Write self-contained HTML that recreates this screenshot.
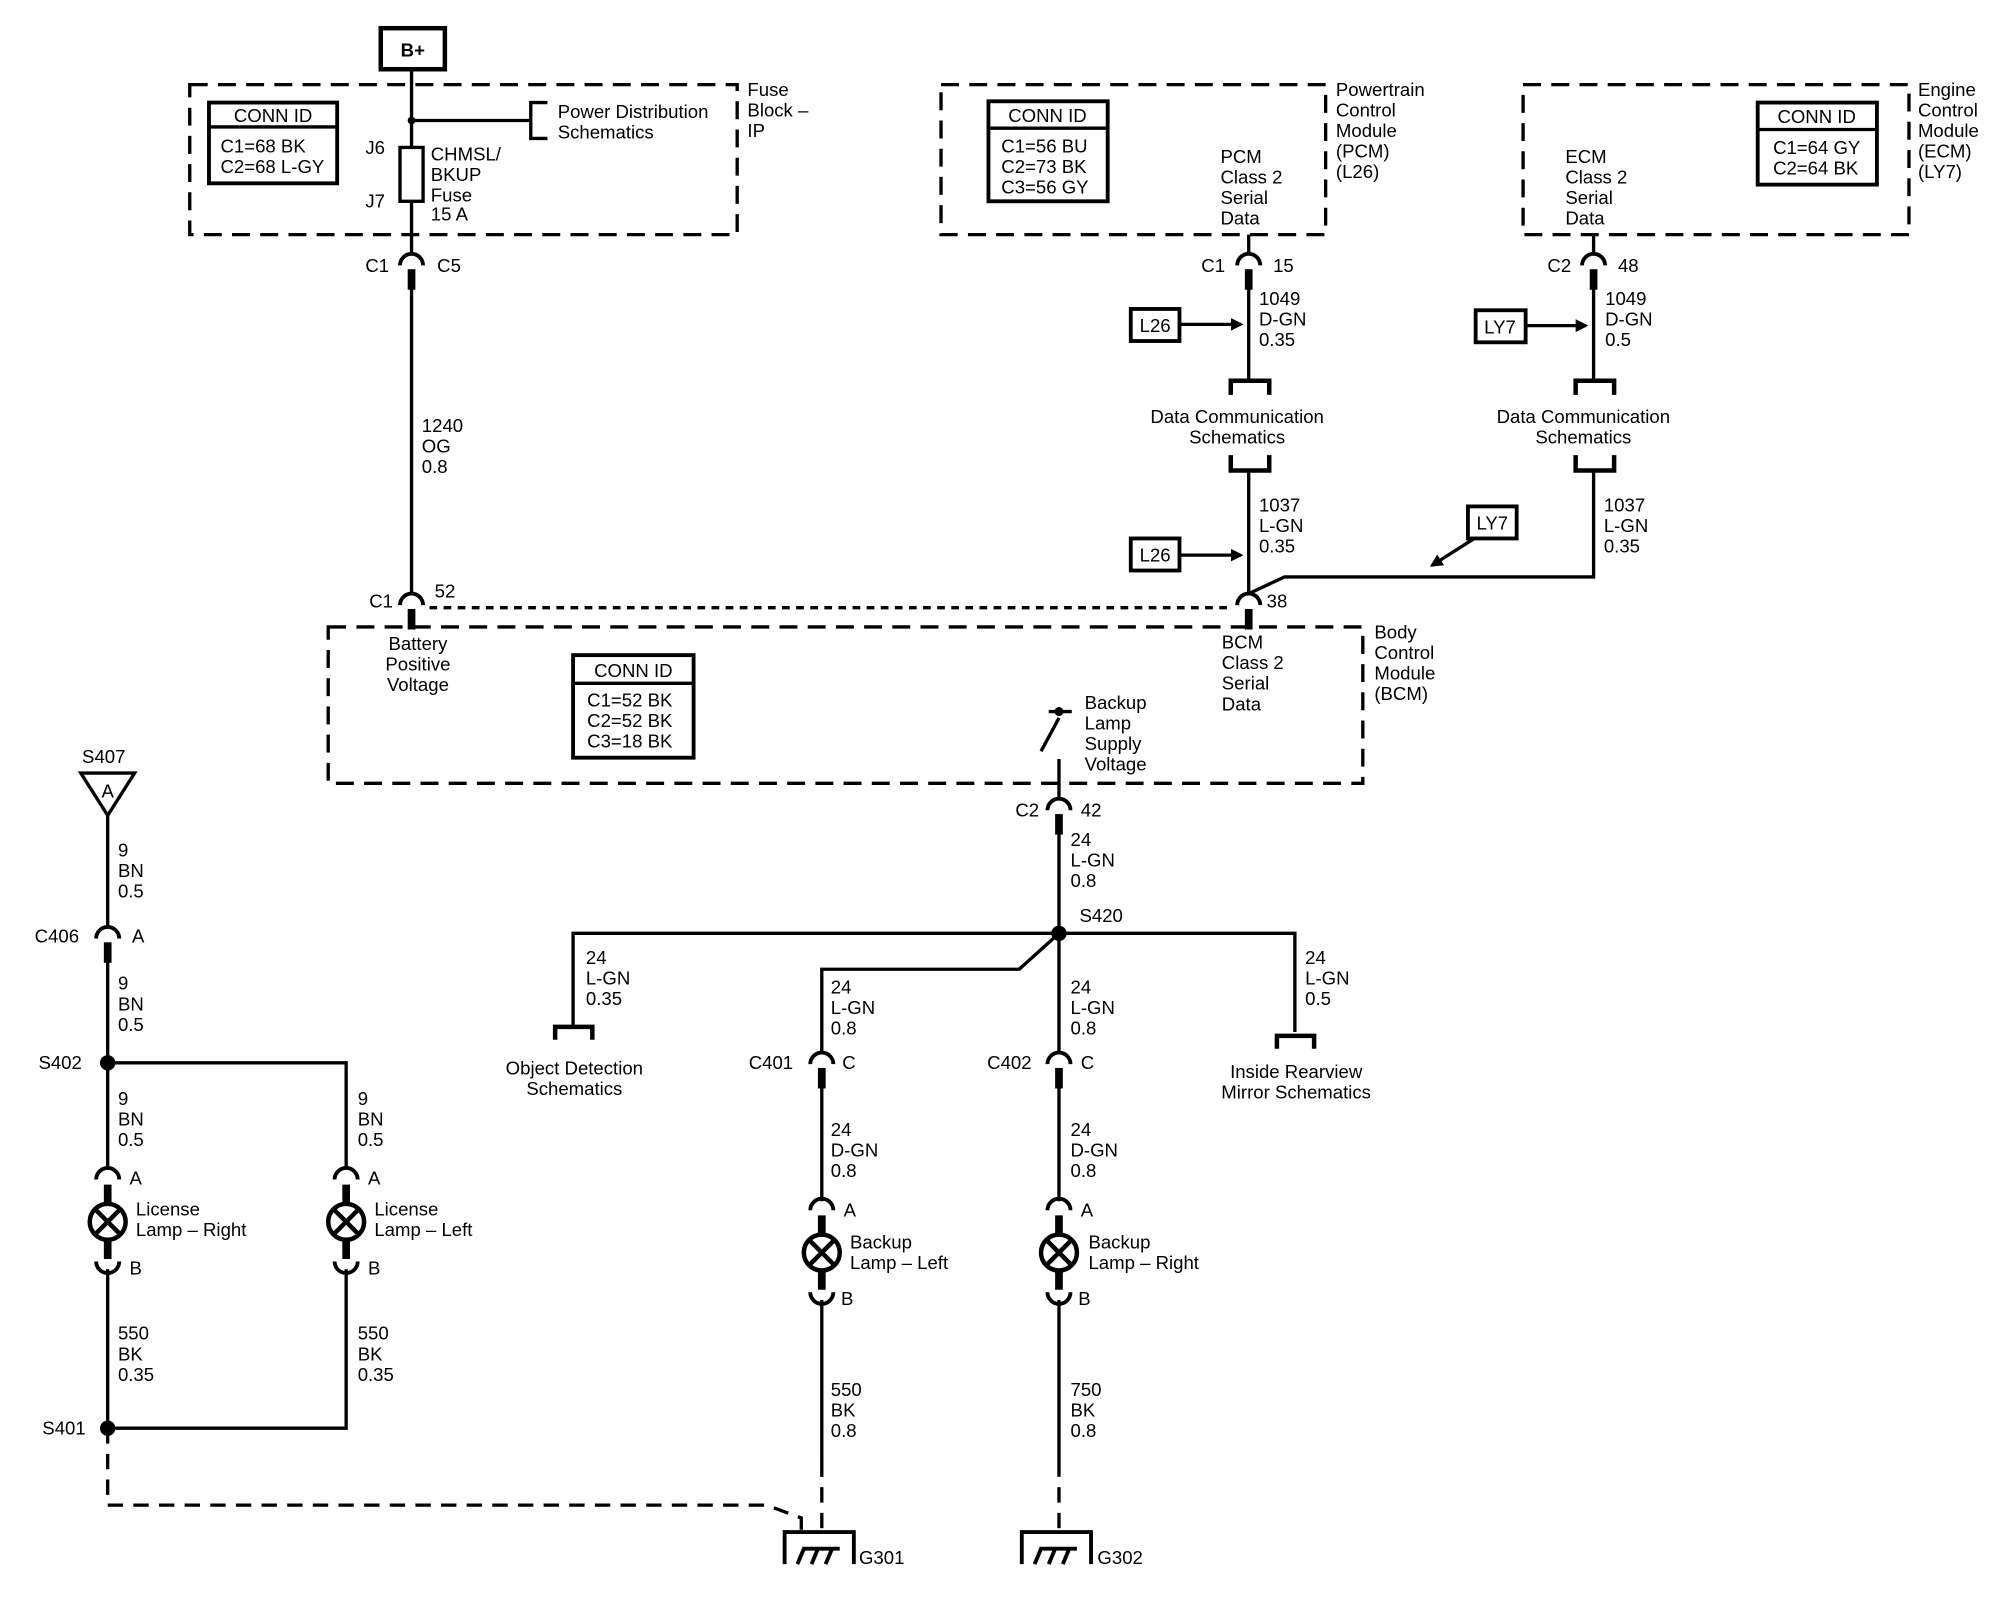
<!DOCTYPE html>
<html><head><meta charset="utf-8"><style>
html,body{margin:0;padding:0;background:#fff;}
svg{display:block;}
text{font-family:"Liberation Sans",Arial,sans-serif;font-size:14.5px;fill:#000;}
</style></head><body>
<svg width="2000" height="1600" viewBox="0 0 1560 1248" xmlns="http://www.w3.org/2000/svg">
<defs>
<g id="cu"><path d="M-9,2 A9,9 0 0 1 9,2" fill="none" stroke="#000" stroke-width="3"/><rect x="-3" y="5" width="6" height="16"/></g>
<g id="lamp">
<path d="M-9,-33 A9,9 0 0 1 9,-33" fill="none" stroke="#000" stroke-width="3"/>
<rect x="-3" y="-29" width="6" height="58"/>
<circle r="14" fill="#fff" stroke="#000" stroke-width="3.5"/>
<path d="M-10,-10 L10,10 M10,-10 L-10,10" stroke="#000" stroke-width="3.5"/>
<path d="M-9,31 A9,9 0 0 0 9,31" fill="none" stroke="#000" stroke-width="3"/>
</g>
<g id="gnd" fill="none" stroke="#000" stroke-width="3">
<path d="M-27,28 V3 H27 V28"/>
<path d="M-17,28 L-12,16 H16 M-6,28 L-1,16 M5,28 L10,16" />
</g>
<marker id="ar" markerWidth="10" markerHeight="10" refX="8" refY="5" orient="auto" markerUnits="userSpaceOnUse"><path d="M0,0 L10,5 L0,10 Z"/></marker>
</defs>
<g fill="none" stroke="#000" stroke-width="2.6">
<!-- dashed boxes -->
<g stroke-dasharray="14,8">
<rect x="148" y="66" width="427" height="117"/>
<rect x="734" y="66" width="300" height="117"/>
<rect x="1188" y="66" width="301" height="117"/>
<rect x="256" y="489" width="807" height="122"/>
</g>
<!-- B+ -->
<rect x="297" y="22" width="50" height="32" stroke-width="3.5"/>
<!-- conn id boxes -->
<rect x="163" y="80" width="100" height="63" stroke-width="3"/><line x1="163" y1="99" x2="263" y2="99"/>
<rect x="771" y="79" width="93" height="78" stroke-width="3"/><line x1="771" y1="100" x2="864" y2="100"/>
<rect x="1371" y="80" width="93" height="64" stroke-width="3"/><line x1="1371" y1="101" x2="1464" y2="101"/>
<rect x="447" y="511" width="94" height="80" stroke-width="3"/><line x1="447" y1="533" x2="541" y2="533"/>
<!-- fuse block wire -->
<line x1="321" y1="54" x2="321" y2="115"/>
<line x1="321" y1="94" x2="414" y2="94"/>
<path d="M427,80 H414 V108 H427"/>
<rect x="312" y="115" width="18" height="42"/>
<line x1="321" y1="157" x2="321" y2="198"/>
<line x1="321" y1="224" x2="321" y2="463"/>
<!-- dotted bcm -->
<line x1="335" y1="474" x2="962" y2="474" stroke-dasharray="6,5"/>
<!-- PCM wire -->
<line x1="974" y1="183" x2="974" y2="198"/>
<line x1="974" y1="224" x2="974" y2="297"/>
<path d="M960,308 V297 H990 V308" stroke-width="3.5"/>
<path d="M960,355 V367 H990 V355" stroke-width="3.5"/>
<line x1="974" y1="367" x2="974" y2="463"/>
<!-- ECM wire -->
<line x1="1243" y1="183" x2="1243" y2="198"/>
<line x1="1243" y1="224" x2="1243" y2="297"/>
<path d="M1229,308 V297 H1259 V308" stroke-width="3.5"/>
<path d="M1229,355 V367 H1259 V355" stroke-width="3.5"/>
<path d="M1243,367 V450 H1002 L974,463"/>
<!-- arrows -->
<line x1="920" y1="253" x2="968" y2="253" marker-end="url(#ar)"/>
<line x1="920" y1="433" x2="968" y2="433" marker-end="url(#ar)"/>
<line x1="1190" y1="254" x2="1237" y2="254" marker-end="url(#ar)"/>
<line x1="1150" y1="420" x2="1117" y2="441" marker-end="url(#ar)"/>
<rect x="882" y="241" width="38" height="25" stroke-width="3"/>
<rect x="882" y="420" width="38" height="25" stroke-width="3"/>
<rect x="1151" y="242" width="39" height="25" stroke-width="3"/>
<rect x="1145" y="395" width="38" height="25" stroke-width="3"/>
<!-- switch -->
<line x1="818" y1="555" x2="836" y2="555"/>
<line x1="826" y1="560" x2="812" y2="586"/>
<line x1="826" y1="592" x2="826" y2="623"/>
<line x1="826" y1="649" x2="826" y2="728"/>
<!-- S420 bus -->
<path d="M447,801 V728 H1010 V805"/>
<path d="M433,811 V801 H462 V811" stroke-width="3.5"/>
<path d="M996,818 V808 H1025 V818" stroke-width="3.5"/>
<path d="M826,728 L795,756 H641 V821"/>
<line x1="826" y1="728" x2="826" y2="821"/>
<line x1="641" y1="847" x2="641" y2="937"/>
<line x1="826" y1="847" x2="826" y2="937"/>
<line x1="641" y1="1014" x2="641" y2="1140"/>
<line x1="826" y1="1014" x2="826" y2="1140"/>
<line x1="641" y1="1140" x2="641" y2="1197" stroke-dasharray="12,8"/>
<line x1="826" y1="1140" x2="826" y2="1197" stroke-dasharray="12,8"/>
<!-- left circuit -->
<path d="M63,603 H105 L84,636 Z"/>
<line x1="84" y1="636" x2="84" y2="723"/>
<line x1="84" y1="749" x2="84" y2="911"/>
<path d="M84,829 H270 V911"/>
<line x1="84" y1="990" x2="84" y2="1114"/>
<path d="M270,990 V1114 H84"/>
<path d="M84,1114 V1174 H598 L625,1184 V1197" stroke-dasharray="12,8"/>
</g>
<!-- connectors -->
<use href="#cu" x="321" y="205"/>
<use href="#cu" x="321" y="470"/>
<use href="#cu" x="974" y="205"/>
<use href="#cu" x="1243" y="205"/>
<use href="#cu" x="974" y="470"/>
<use href="#cu" x="826" y="630"/>
<use href="#cu" x="641" y="828"/>
<use href="#cu" x="826" y="828"/>
<use href="#cu" x="84" y="730"/>
<use href="#lamp" x="641" y="977"/>
<use href="#lamp" x="826" y="977"/>
<use href="#lamp" x="84" y="953"/>
<use href="#lamp" x="270" y="953"/>
<use href="#gnd" x="639" y="1192"/>
<use href="#gnd" x="824" y="1192"/>
<!-- dots -->
<circle cx="321" cy="94" r="3"/>
<circle cx="826" cy="555" r="3.5"/>
<circle cx="826" cy="728" r="6"/>
<circle cx="84" cy="829" r="6"/>
<circle cx="84" cy="1114" r="6"/>
<!-- text -->
<text x="322" y="44" text-anchor="middle" font-weight="bold">B+</text>
<text x="213" y="95" text-anchor="middle">CONN ID</text>
<text x="172" y="119">C1=68 BK</text><text x="172" y="135">C2=68 L-GY</text>
<text x="435" y="92">Power Distribution</text><text x="435" y="108">Schematics</text>
<text x="583" y="75">Fuse</text><text x="583" y="91">Block –</text><text x="583" y="107">IP</text>
<text x="285" y="120">J6</text><text x="285" y="162">J7</text>
<text x="336" y="125">CHMSL/</text><text x="336" y="141">BKUP</text><text x="336" y="157">Fuse</text><text x="336" y="172">15 A</text>
<text x="285" y="212">C1</text><text x="341" y="212">C5</text>
<text x="329" y="337">1240</text><text x="329" y="353">OG</text><text x="329" y="369">0.8</text>
<text x="288" y="474">C1</text><text x="339" y="466">52</text>
<text x="326" y="507" text-anchor="middle">Battery</text><text x="326" y="523" text-anchor="middle">Positive</text><text x="326" y="539" text-anchor="middle">Voltage</text>
<text x="494" y="528" text-anchor="middle">CONN ID</text>
<text x="458" y="551">C1=52 BK</text><text x="458" y="567">C2=52 BK</text><text x="458" y="583">C3=18 BK</text>
<text x="953" y="506">BCM</text><text x="953" y="522">Class 2</text><text x="953" y="538">Serial</text><text x="953" y="554">Data</text>
<text x="1072" y="498">Body</text><text x="1072" y="514">Control</text><text x="1072" y="530">Module</text><text x="1072" y="546">(BCM)</text>
<text x="846" y="553">Backup</text><text x="846" y="569">Lamp</text><text x="846" y="585">Supply</text><text x="846" y="601">Voltage</text>
<text x="792" y="637">C2</text><text x="843" y="637">42</text>
<text x="835" y="660">24</text><text x="835" y="676">L-GN</text><text x="835" y="692">0.8</text>
<text x="842" y="719">S420</text>
<text x="457" y="752">24</text><text x="457" y="768">L-GN</text><text x="457" y="784">0.35</text>
<text x="648" y="775">24</text><text x="648" y="791">L-GN</text><text x="648" y="807">0.8</text>
<text x="835" y="775">24</text><text x="835" y="791">L-GN</text><text x="835" y="807">0.8</text>
<text x="1018" y="752">24</text><text x="1018" y="768">L-GN</text><text x="1018" y="784">0.5</text>
<text x="448" y="838" text-anchor="middle">Object Detection</text><text x="448" y="854" text-anchor="middle">Schematics</text>
<text x="1011" y="841" text-anchor="middle">Inside Rearview</text><text x="1011" y="857" text-anchor="middle">Mirror Schematics</text>
<text x="584" y="834">C401</text><text x="657" y="834">C</text>
<text x="770" y="834">C402</text><text x="843" y="834">C</text>
<text x="648" y="886">24</text><text x="648" y="902">D-GN</text><text x="648" y="918">0.8</text>
<text x="835" y="886">24</text><text x="835" y="902">D-GN</text><text x="835" y="918">0.8</text>
<text x="658" y="949">A</text><text x="843" y="949">A</text>
<text x="663" y="974">Backup</text><text x="663" y="990">Lamp – Left</text>
<text x="849" y="974">Backup</text><text x="849" y="990">Lamp – Right</text>
<text x="656" y="1018">B</text><text x="841" y="1018">B</text>
<text x="648" y="1089">550</text><text x="648" y="1105">BK</text><text x="648" y="1121">0.8</text>
<text x="835" y="1089">750</text><text x="835" y="1105">BK</text><text x="835" y="1121">0.8</text>
<text x="670" y="1220">G301</text><text x="856" y="1220">G302</text>
<text x="64" y="595">S407</text><text x="84" y="622" text-anchor="middle" font-size="13">A</text>
<text x="92" y="668">9</text><text x="92" y="684">BN</text><text x="92" y="700">0.5</text>
<text x="27" y="735">C406</text><text x="103" y="735">A</text>
<text x="92" y="772">9</text><text x="92" y="788">BN</text><text x="92" y="804">0.5</text>
<text x="30" y="834">S402</text>
<text x="92" y="862">9</text><text x="92" y="878">BN</text><text x="92" y="894">0.5</text>
<text x="279" y="862">9</text><text x="279" y="878">BN</text><text x="279" y="894">0.5</text>
<text x="101" y="924">A</text><text x="287" y="924">A</text>
<text x="106" y="948">License</text><text x="106" y="964">Lamp – Right</text>
<text x="292" y="948">License</text><text x="292" y="964">Lamp – Left</text>
<text x="101" y="994">B</text><text x="287" y="994">B</text>
<text x="92" y="1045">550</text><text x="92" y="1061">BK</text><text x="92" y="1077">0.35</text>
<text x="279" y="1045">550</text><text x="279" y="1061">BK</text><text x="279" y="1077">0.35</text>
<text x="33" y="1119">S401</text>
<text x="817" y="95" text-anchor="middle">CONN ID</text>
<text x="781" y="119">C1=56 BU</text><text x="781" y="135">C2=73 BK</text><text x="781" y="151">C3=56 GY</text>
<text x="952" y="127">PCM</text><text x="952" y="143">Class 2</text><text x="952" y="159">Serial</text><text x="952" y="175">Data</text>
<text x="1042" y="75">Powertrain</text><text x="1042" y="91">Control</text><text x="1042" y="107">Module</text><text x="1042" y="123">(PCM)</text><text x="1042" y="139">(L26)</text>
<text x="937" y="212">C1</text><text x="993" y="212">15</text>
<text x="982" y="238">1049</text><text x="982" y="254">D-GN</text><text x="982" y="270">0.35</text>
<text x="901" y="259" text-anchor="middle">L26</text><text x="901" y="438" text-anchor="middle">L26</text>
<text x="965" y="330" text-anchor="middle">Data Communication</text><text x="965" y="346" text-anchor="middle">Schematics</text>
<text x="982" y="399">1037</text><text x="982" y="415">L-GN</text><text x="982" y="431">0.35</text>
<text x="988" y="474">38</text>
<text x="1417" y="96" text-anchor="middle">CONN ID</text>
<text x="1383" y="120">C1=64 GY</text><text x="1383" y="136">C2=64 BK</text>
<text x="1221" y="127">ECM</text><text x="1221" y="143">Class 2</text><text x="1221" y="159">Serial</text><text x="1221" y="175">Data</text>
<text x="1496" y="75">Engine</text><text x="1496" y="91">Control</text><text x="1496" y="107">Module</text><text x="1496" y="123">(ECM)</text><text x="1496" y="139">(LY7)</text>
<text x="1207" y="212">C2</text><text x="1262" y="212">48</text>
<text x="1252" y="238">1049</text><text x="1252" y="254">D-GN</text><text x="1252" y="270">0.5</text>
<text x="1170" y="260" text-anchor="middle">LY7</text><text x="1164" y="413" text-anchor="middle">LY7</text>
<text x="1235" y="330" text-anchor="middle">Data Communication</text><text x="1235" y="346" text-anchor="middle">Schematics</text>
<text x="1251" y="399">1037</text><text x="1251" y="415">L-GN</text><text x="1251" y="431">0.35</text>
</svg>
</body></html>
